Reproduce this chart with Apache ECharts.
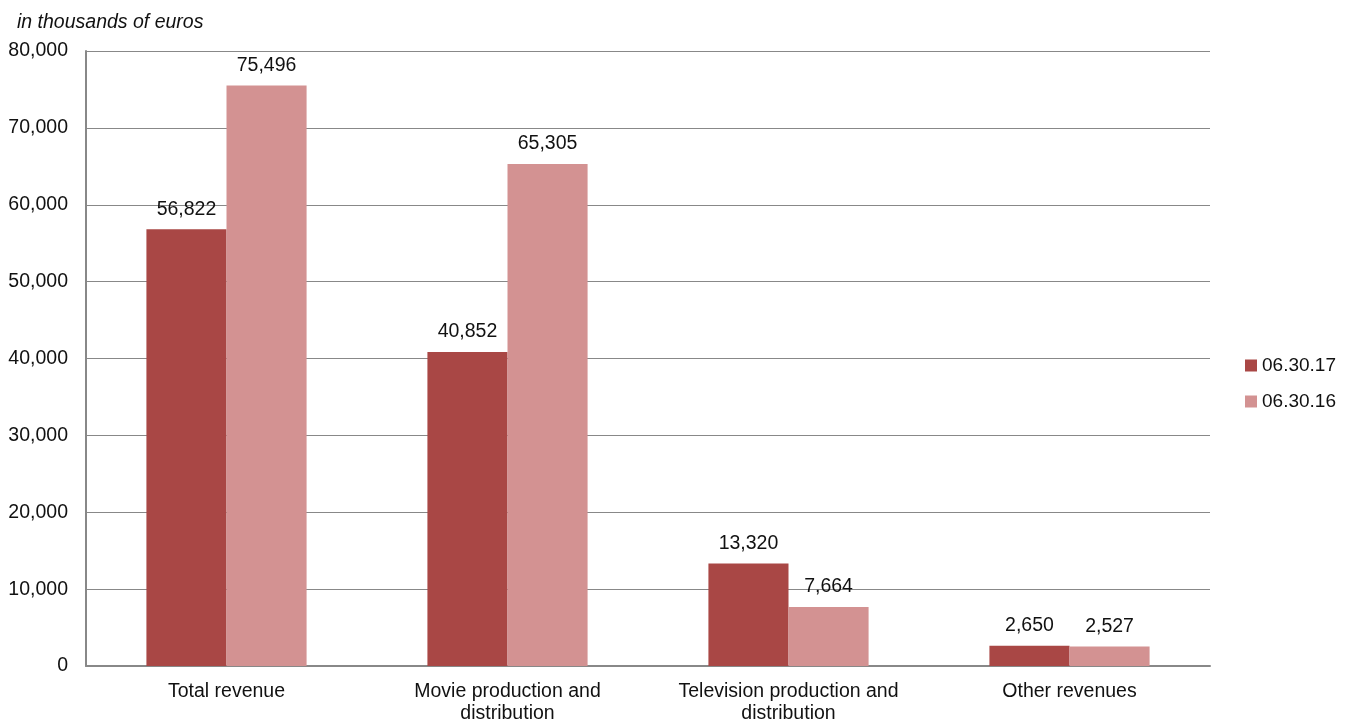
<!DOCTYPE html>
<html>
<head>
    <meta charset="utf-8" />
    <title>Revenue</title>
    <script src="https://cdn.jsdelivr.net/npm/echarts@6/dist/echarts.min.js"></script>
    <style>
        html, body { margin: 0; padding: 0; background: #fff; }
        #main { width: 1355px; height: 725px; }
    </style>
</head>
<body>
    <div id="main"></div>
    <script type="text/javascript">
        // data
        var categories = ['Total revenue', 'Movie production and\ndistribution', 'Television production and\ndistribution', 'Other revenues'];
        var values2017 = [56822, 40852, 13320, 2650];
        var values2016 = [75496, 65305, 7664, 2527];
        var seriesNames = ['06.30.17', '06.30.16'];

        var font = 'Liberation Sans, Arial, sans-serif';
        var fmt = function (v) { return Number(v).toLocaleString('en-US'); };

        var myChart = echarts.init(document.getElementById('main'));

        var label = {
            show: true,
            position: 'top',
            distance: 10,
            fontFamily: font,
            fontSize: 19.5,
            color: '#111',
            formatter: function (p) { return fmt(p.value); }
        };

        var option = {
            animation: false,
            title: {
                text: 'in thousands of euros',
                left: 12,
                top: 8,
                textStyle: { fontFamily: font, fontSize: 19.5, fontStyle: 'italic', fontWeight: 'normal', color: '#111' }
            },
            legend: {
                orient: 'vertical',
                left: 1245,
                top: 356,
                padding: 0,
                itemWidth: 12,
                itemHeight: 12,
                itemGap: 17,
                icon: 'rect',
                textStyle: { fontFamily: font, fontSize: 19, color: '#111' },
                data: seriesNames
            },
            grid: { left: 86, right: 145, top: 51, bottom: 57 },
            xAxis: {
                type: 'category',
                data: categories,
                axisLine: { lineStyle: { color: '#888', width: 2 } },
                axisTick: { show: false },
                axisLabel: { fontFamily: font, fontSize: 19.5, color: '#111', margin: 15, lineHeight: 22, interval: 0 }
            },
            yAxis: {
                type: 'value',
                min: 0,
                max: 80000,
                interval: 10000,
                axisLine: { show: true, lineStyle: { color: '#888', width: 2 } },
                axisTick: { show: false },
                splitLine: { lineStyle: { color: '#888', width: 1 } },
                axisLabel: { fontFamily: font, fontSize: 19.5, color: '#111', margin: 18, padding: [9, 0, 0, 0], formatter: fmt }
            },
            series: [
                {
                    name: seriesNames[0],
                    type: 'bar',
                    data: values2017,
                    barGap: '0%',
                    barCategoryGap: '43%',
                    itemStyle: { color: '#A94745' },
                    label: label
                },
                {
                    name: seriesNames[1],
                    type: 'bar',
                    data: values2016,
                    itemStyle: { color: '#D39292' },
                    label: label
                }
            ]
        };

        myChart.setOption(option);
    </script>
</body>
</html>
